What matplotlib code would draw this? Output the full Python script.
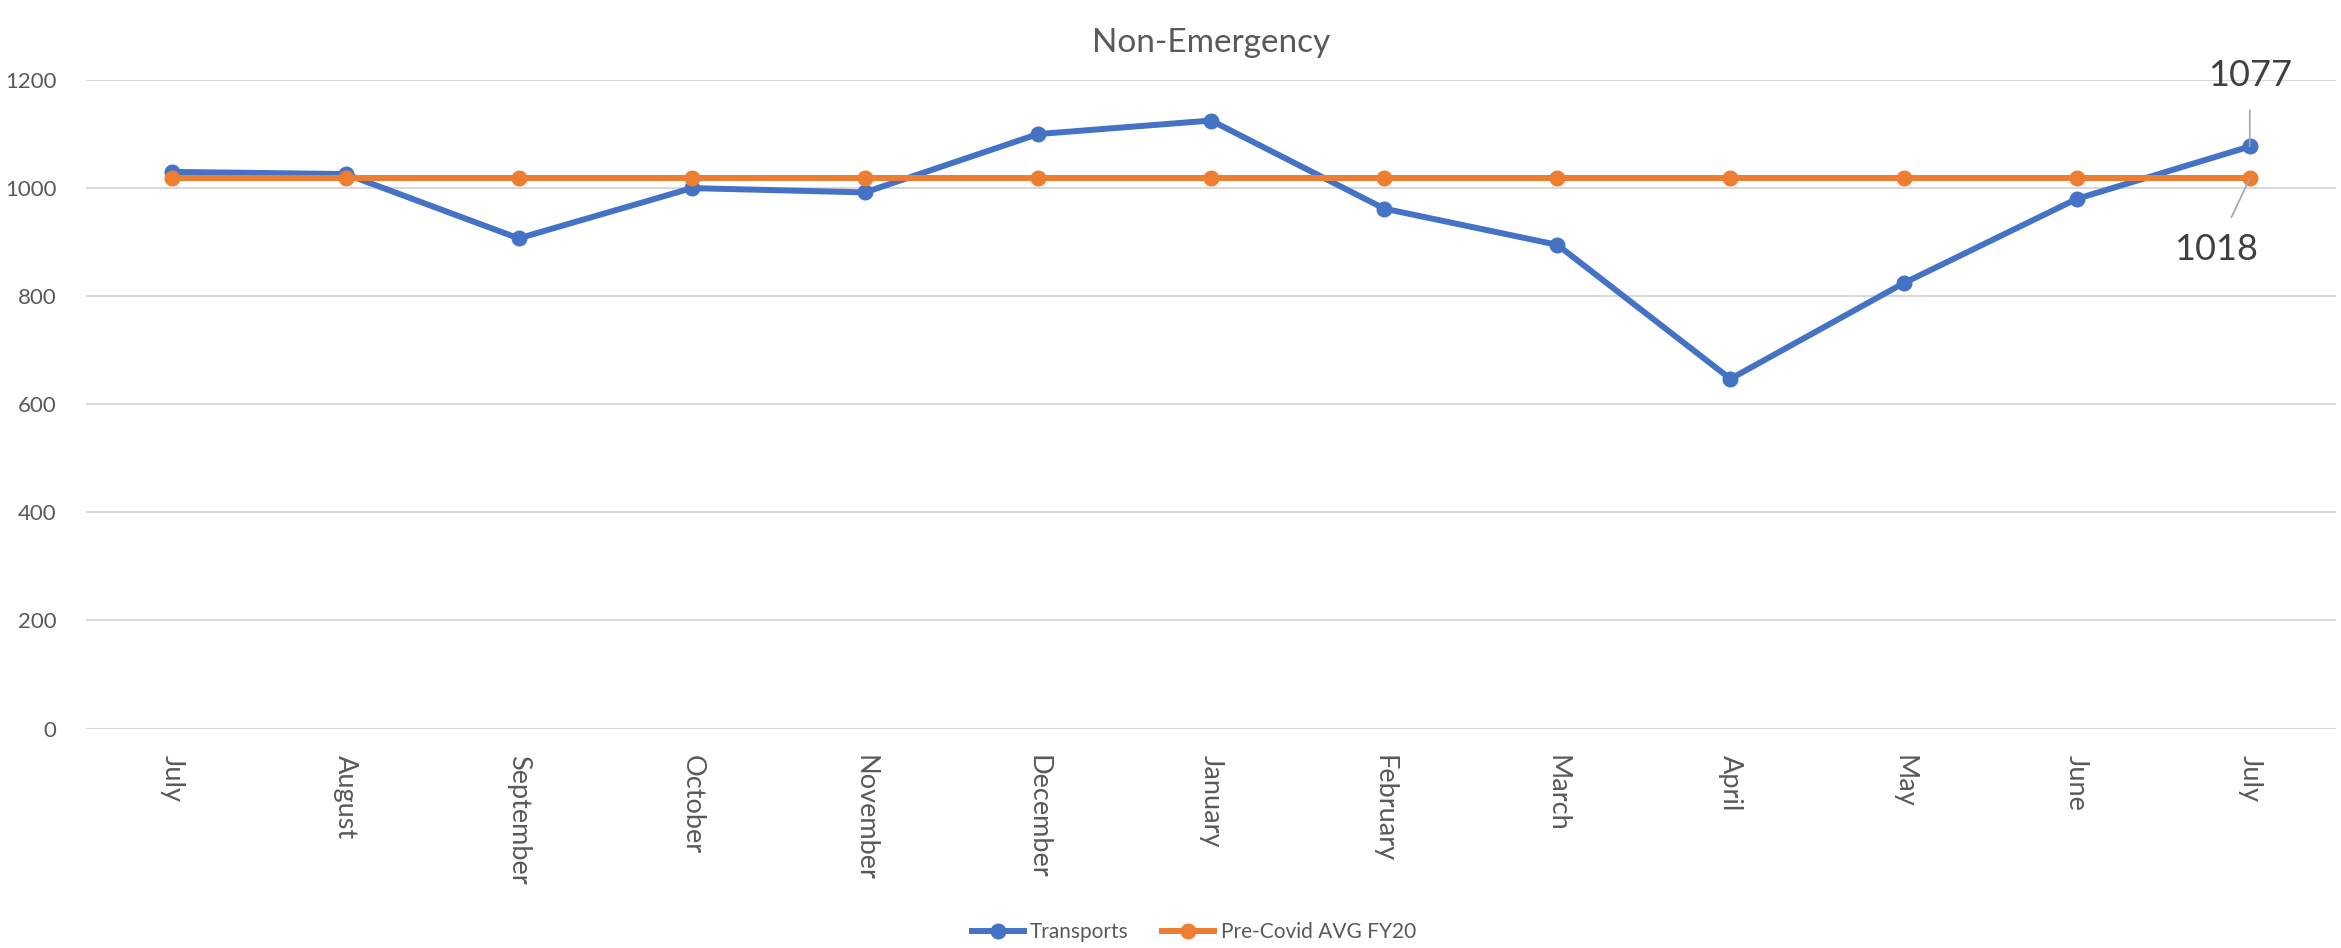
import matplotlib.pyplot as plt

months = ["July", "August", "September", "October", "November", "December",
          "January", "February", "March", "April", "May", "June", "July"]
transports = [1030, 1026, 907, 1000, 992, 1100, 1125, 962, 895, 647, 824, 980, 1077]
precovid_avg = [1018] * 13
y_ticks = [0, 200, 400, 600, 800, 1000, 1200]

blue = '#4472C4'
orange = '#ED7D31'
text_grey = '#595959'

plt.rcParams['font.family'] = ['Lato', 'DejaVu Sans']

fig = plt.figure(figsize=(23.41, 9.48), dpi=100)
ax = fig.add_axes([0.0367, 0.2315, 0.9613, 0.6841])

x = list(range(len(months)))
ax.plot(x, transports, color=blue, lw=4.3, marker='o', ms=10.5, label='Transports', zorder=3)
ax.plot(x, precovid_avg, color=orange, lw=4.3, marker='o', ms=10.5,
        label='Pre-Covid AVG FY20', zorder=3)

ax.set_xlim(-0.5, len(months) - 0.5)
ax.set_ylim(0, 1200)
ax.set_yticks(y_ticks)
ax.set_xticks(x)
ax.set_xticklabels(months, rotation=270, fontsize=19.5, color=text_grey)
ax.tick_params(axis='y', labelsize=16, labelcolor=text_grey, length=0, pad=21)
ax.tick_params(axis='x', length=0, pad=19)
ax.grid(axis='y', color='#d9d9d9', lw=1.5)
ax.set_axisbelow(True)
for s in ax.spines.values():
    s.set_visible(False)

ax.set_title('Non-Emergency', fontsize=24, color=text_grey, pad=20)

# data labels on the last point
ax.annotate(str(transports[-1]), (x[-1], transports[-1]), xytext=(0, 51),
            textcoords='offset points', ha='center', va='center', fontsize=26,
            color='#404040',
            arrowprops=dict(arrowstyle='-', color='#a6a6a6', lw=1.2, shrinkA=11, shrinkB=0))
ax.annotate(str(precovid_avg[-1]), (x[-1], precovid_avg[-1]), xytext=(-24, -51),
            textcoords='offset points', ha='center', va='center', fontsize=26,
            color='#404040',
            arrowprops=dict(arrowstyle='-', color='#a6a6a6', lw=1.2, shrinkA=10, shrinkB=0))

fig.legend(loc='center', bbox_to_anchor=(0.51, 0.017), ncol=2, frameon=False,
           fontsize=15, labelcolor=text_grey, handlelength=2.5, columnspacing=1.6,
           handletextpad=0.3)

fig.savefig('out.png', dpi=100)
